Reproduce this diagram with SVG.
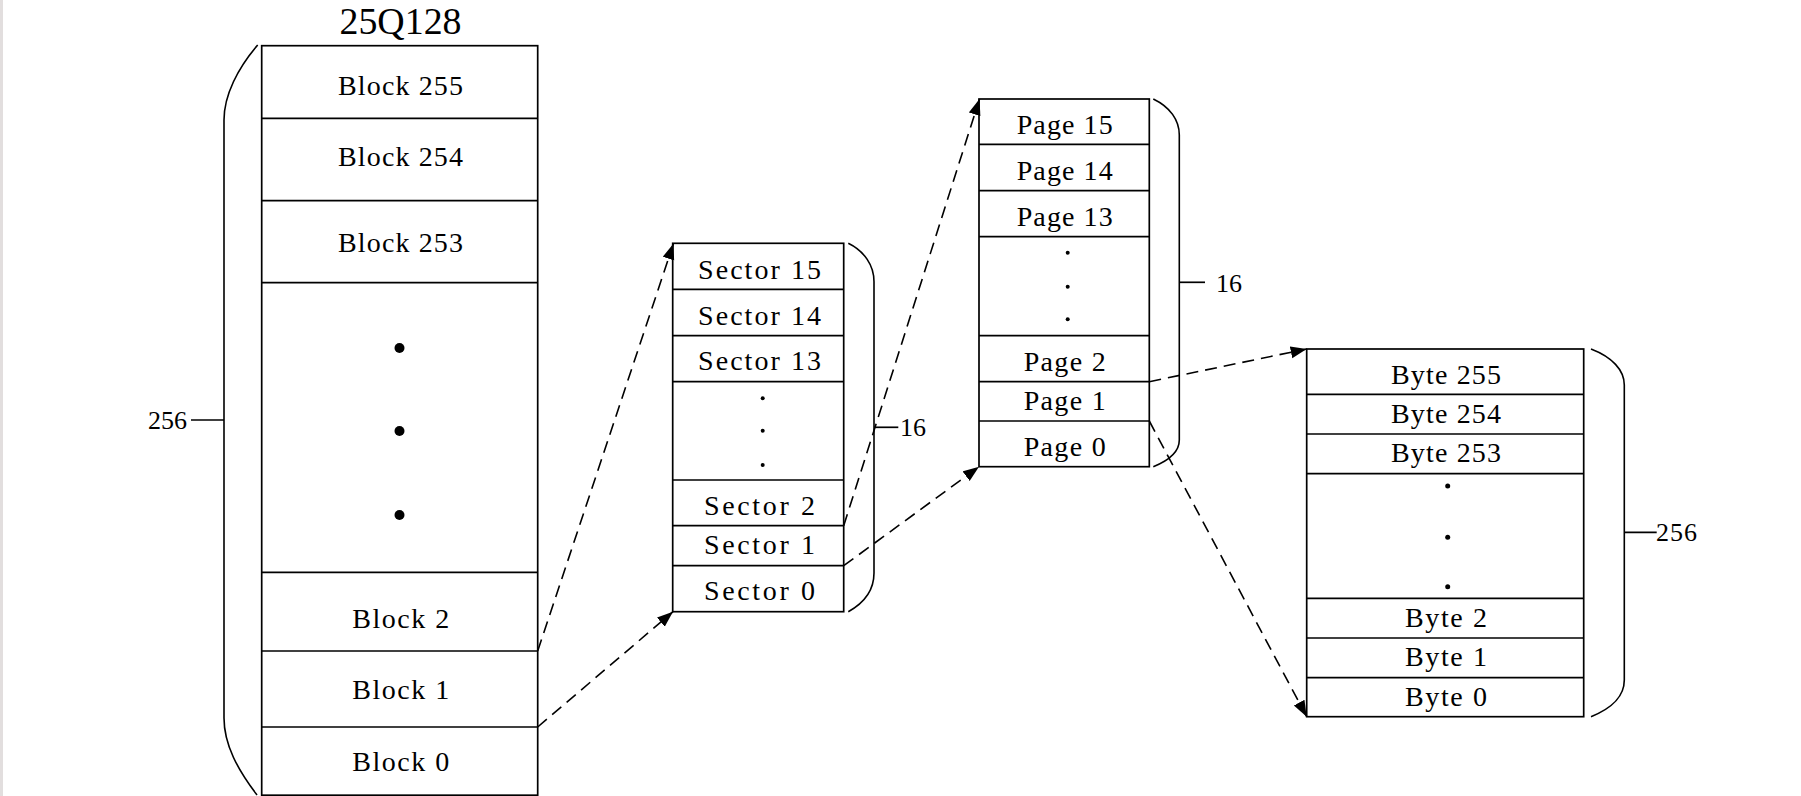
<svg xmlns="http://www.w3.org/2000/svg" width="1801" height="796" viewBox="0 0 1801 796">
<style>
.box{fill:#fff;stroke:#000;stroke-width:1.7}
.sep{stroke:#000;stroke-width:1.7}
.brace{fill:none;stroke:#000;stroke-width:1.6}
.lbl{font-family:"Liberation Serif","Noto Serif",serif;font-size:28px;fill:#000;text-anchor:middle}
.num{font-family:"Liberation Serif",serif;font-size:26px;fill:#000}
.title{font-family:"Liberation Serif",serif;font-size:37px;fill:#000;text-anchor:middle}
.conn{fill:none;stroke:#000;stroke-width:1.6;stroke-dasharray:12 7}
</style>
<defs>
<marker id="arr" markerUnits="userSpaceOnUse" markerWidth="18" markerHeight="13" refX="16" refY="6" orient="auto" viewBox="0 0 18 13">
<path d="M0,0 L16,6 L0,12 z" fill="#000"/>
</marker>
</defs>
<rect x="0" y="0" width="1801" height="796" fill="#fff"/>
<rect x="0" y="0" width="3" height="796" fill="#e2dede"/>

<text class="title" x="400.5" y="34" textLength="122" lengthAdjust="spacingAndGlyphs">25Q128</text>

<g id="blocks">
<rect class="box" x="261.7" y="45.7" width="276" height="749.5"/>
<g id="block255"><text class="lbl" x="400.5" y="95" textLength="125" lengthAdjust="spacing">Block 255</text></g>
<line class="sep" x1="261.7" y1="118.3" x2="537.7" y2="118.3"/>
<g id="block254"><text class="lbl" x="400.5" y="166" textLength="125" lengthAdjust="spacing">Block 254</text></g>
<line class="sep" x1="261.7" y1="200.7" x2="537.7" y2="200.7"/>
<g id="block253"><text class="lbl" x="400.5" y="252" textLength="125" lengthAdjust="spacing">Block 253</text></g>
<line class="sep" x1="261.7" y1="282.7" x2="537.7" y2="282.7"/>
<g id="blockdots"><circle cx="399.5" cy="348" r="5"/><circle cx="399.5" cy="431" r="5"/><circle cx="399.5" cy="515" r="5"/></g>
<line class="sep" x1="261.7" y1="572.3" x2="537.7" y2="572.3"/>
<g id="block2"><text class="lbl" x="400.8" y="628" textLength="97" lengthAdjust="spacing">Block 2</text></g>
<line class="sep" x1="261.7" y1="651" x2="537.7" y2="651"/>
<g id="block1"><text class="lbl" x="400.8" y="699" textLength="97" lengthAdjust="spacing">Block 1</text></g>
<line class="sep" x1="261.7" y1="727" x2="537.7" y2="727"/>
<g id="block0"><text class="lbl" x="400.8" y="771" textLength="97" lengthAdjust="spacing">Block 0</text></g>
</g>
<g id="brace-blocks">
<path class="brace" d="M257.7,45 C238,68 224,95 224,120 L224,718 C224,745 238,770 257,795"/>
<line class="sep" x1="191" y1="420" x2="224" y2="420"/>
<text class="num" x="148" y="428.5" textLength="39">256</text>
</g>

<g id="sectors">
<rect class="box" x="672.7" y="243.3" width="171" height="368.4"/>
<g id="sector15"><text class="lbl" x="759.5" y="278.5" textLength="123" lengthAdjust="spacing">Sector 15</text></g>
<line class="sep" x1="672.7" y1="289.3" x2="843.7" y2="289.3"/>
<g id="sector14"><text class="lbl" x="759.5" y="324.5" textLength="123" lengthAdjust="spacing">Sector 14</text></g>
<line class="sep" x1="672.7" y1="335.7" x2="843.7" y2="335.7"/>
<g id="sector13"><text class="lbl" x="759.5" y="370" textLength="123" lengthAdjust="spacing">Sector 13</text></g>
<line class="sep" x1="672.7" y1="381.7" x2="843.7" y2="381.7"/>
<g id="sectordots"><circle cx="762.7" cy="398.3" r="2"/><circle cx="762.7" cy="430.7" r="2"/><circle cx="762.7" cy="465" r="2"/></g>
<line class="sep" x1="672.7" y1="480" x2="843.7" y2="480"/>
<g id="sector2"><text class="lbl" x="759.5" y="515" textLength="111" lengthAdjust="spacing">Sector 2</text></g>
<line class="sep" x1="672.7" y1="525.7" x2="843.7" y2="525.7"/>
<g id="sector1"><text class="lbl" x="759.5" y="554" textLength="111" lengthAdjust="spacing">Sector 1</text></g>
<line class="sep" x1="672.7" y1="565.7" x2="843.7" y2="565.7"/>
<g id="sector0"><text class="lbl" x="759.5" y="600" textLength="111" lengthAdjust="spacing">Sector 0</text></g>
</g>
<g id="brace-sectors">
<path class="brace" d="M848.3,243.3 C864,251 874,265 874,281.7 L874,573 C874,590 864,603 848.3,611.7"/>
<line class="sep" x1="874" y1="427.3" x2="898.3" y2="427.3"/>
<text class="num" x="900" y="436">16</text>
</g>

<g id="pages">
<rect class="box" x="979" y="99" width="170.3" height="367.7"/>
<g id="page15"><text class="lbl" x="1064.7" y="133.5" textLength="96" lengthAdjust="spacing">Page 15</text></g>
<line class="sep" x1="979" y1="144.3" x2="1149.3" y2="144.3"/>
<g id="page14"><text class="lbl" x="1064.7" y="179.5" textLength="96" lengthAdjust="spacing">Page 14</text></g>
<line class="sep" x1="979" y1="190.7" x2="1149.3" y2="190.7"/>
<g id="page13"><text class="lbl" x="1064.7" y="225.5" textLength="96" lengthAdjust="spacing">Page 13</text></g>
<line class="sep" x1="979" y1="236.7" x2="1149.3" y2="236.7"/>
<g id="pagedots"><circle cx="1067.7" cy="252.7" r="2"/><circle cx="1067.7" cy="286.7" r="2"/><circle cx="1067.7" cy="319.3" r="2"/></g>
<line class="sep" x1="979" y1="335.7" x2="1149.3" y2="335.7"/>
<g id="page2"><text class="lbl" x="1064.7" y="371" textLength="82" lengthAdjust="spacing">Page 2</text></g>
<line class="sep" x1="979" y1="381.7" x2="1149.3" y2="381.7"/>
<g id="page1"><text class="lbl" x="1064.7" y="410" textLength="82" lengthAdjust="spacing">Page 1</text></g>
<line class="sep" x1="979" y1="421" x2="1149.3" y2="421"/>
<g id="page0"><text class="lbl" x="1064.7" y="456" textLength="82" lengthAdjust="spacing">Page 0</text></g>
</g>
<g id="brace-pages">
<path class="brace" d="M1153.3,99 C1170,107 1179.3,120 1179.3,135 L1179.3,440 C1179.3,452 1170,460 1153.3,466.7"/>
<line class="sep" x1="1179.3" y1="282.3" x2="1205" y2="282.3"/>
<text class="num" x="1216" y="292">16</text>
</g>

<g id="bytes">
<rect class="box" x="1306.7" y="349" width="277" height="367.7"/>
<g id="byte255"><text class="lbl" x="1446" y="383.5" textLength="110" lengthAdjust="spacing">Byte 255</text></g>
<line class="sep" x1="1306.7" y1="394.3" x2="1583.7" y2="394.3"/>
<g id="byte254"><text class="lbl" x="1446" y="422.7" textLength="110" lengthAdjust="spacing">Byte 254</text></g>
<line class="sep" x1="1306.7" y1="434" x2="1583.7" y2="434"/>
<g id="byte253"><text class="lbl" x="1446" y="462.3" textLength="110" lengthAdjust="spacing">Byte 253</text></g>
<line class="sep" x1="1306.7" y1="473.7" x2="1583.7" y2="473.7"/>
<g id="bytedots"><circle cx="1447.7" cy="486" r="2.5"/><circle cx="1447.7" cy="537.3" r="2.5"/><circle cx="1447.7" cy="586.7" r="2.5"/></g>
<line class="sep" x1="1306.7" y1="598.3" x2="1583.7" y2="598.3"/>
<g id="byte2"><text class="lbl" x="1446" y="627" textLength="82" lengthAdjust="spacing">Byte 2</text></g>
<line class="sep" x1="1306.7" y1="638" x2="1583.7" y2="638"/>
<g id="byte1"><text class="lbl" x="1446" y="666" textLength="82" lengthAdjust="spacing">Byte 1</text></g>
<line class="sep" x1="1306.7" y1="677.7" x2="1583.7" y2="677.7"/>
<g id="byte0"><text class="lbl" x="1446" y="706" textLength="82" lengthAdjust="spacing">Byte 0</text></g>
</g>
<g id="brace-bytes">
<path class="brace" d="M1591,349 C1612,357 1624.3,370 1624.3,385 L1624.3,680 C1624.3,697 1612,708 1591,716.7"/>
<line class="sep" x1="1624.3" y1="532.3" x2="1656.7" y2="532.3"/>
<text class="num" x="1656" y="541" textLength="41">256</text>
</g>

<g id="connectors">
<line class="conn" x1="537.7" y1="651" x2="673.5" y2="243.5" marker-end="url(#arr)"/>
<line class="conn" x1="537.7" y1="727" x2="673" y2="611.7" marker-end="url(#arr)"/>
<line class="conn" x1="843.7" y1="525.7" x2="979.5" y2="99" marker-end="url(#arr)"/>
<line class="conn" x1="843.7" y1="565.7" x2="979" y2="466.7" marker-end="url(#arr)"/>
<line class="conn" x1="1149.3" y1="381.7" x2="1306.7" y2="349" marker-end="url(#arr)"/>
<line class="conn" x1="1149.3" y1="421" x2="1306.7" y2="716.7" marker-end="url(#arr)"/>
</g>
</svg>
